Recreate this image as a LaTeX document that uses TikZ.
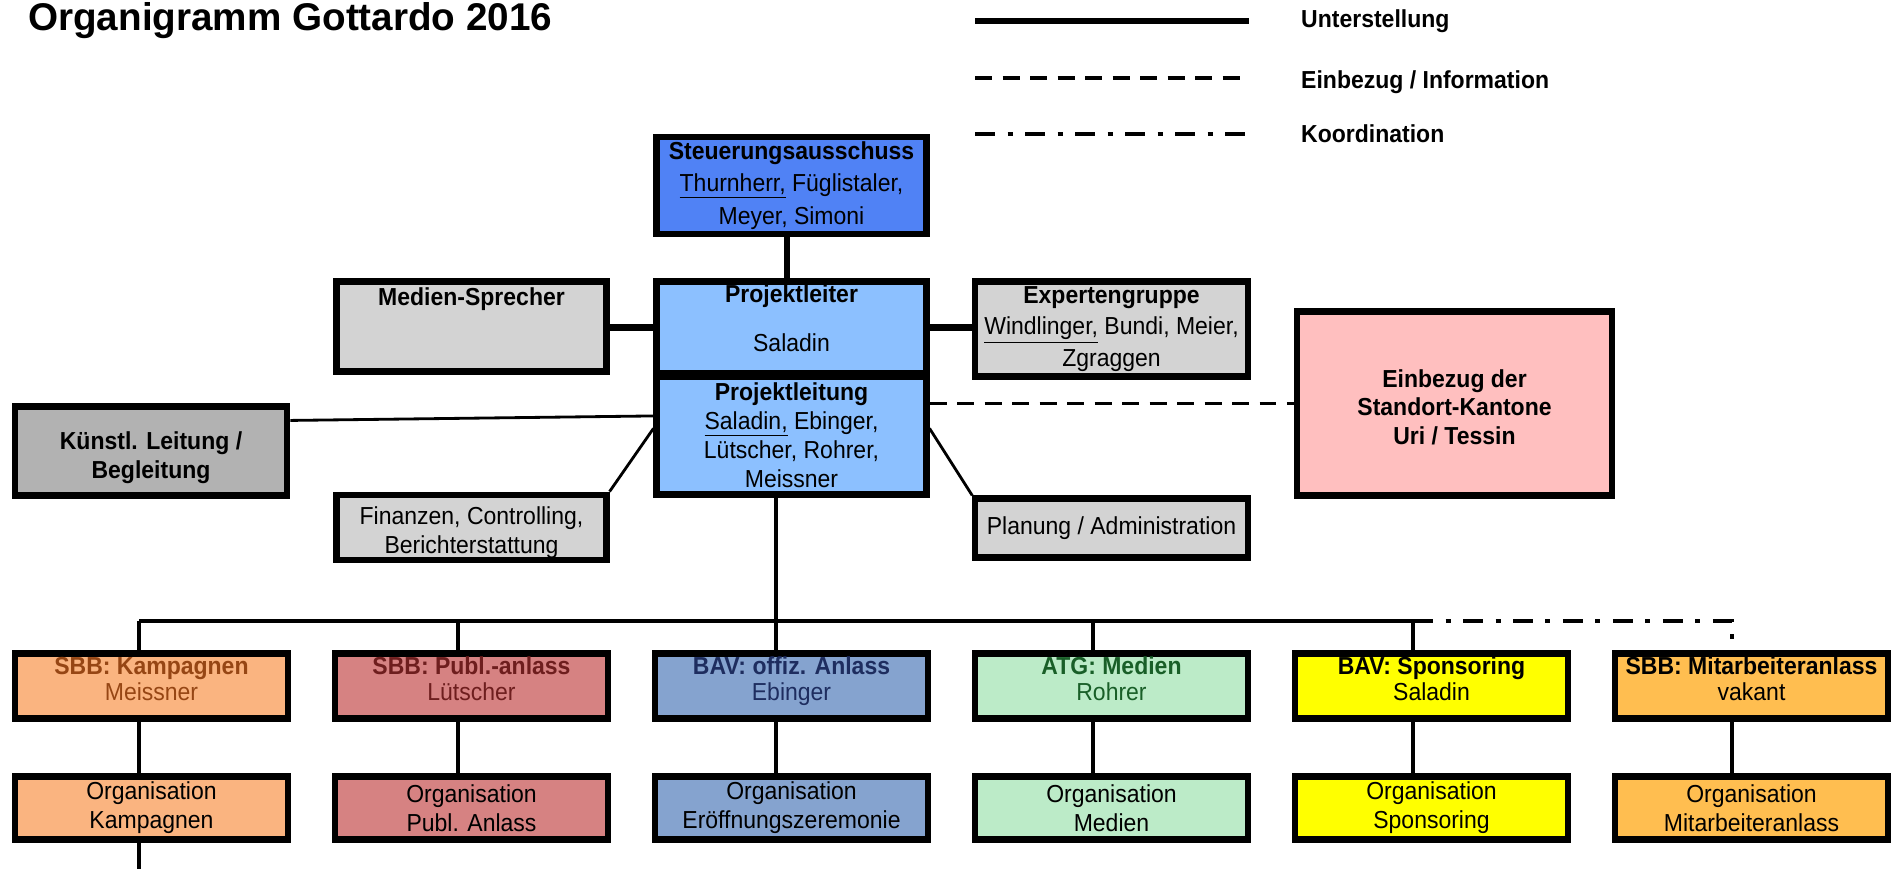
\documentclass[tikz,border=0pt]{standalone}
\usepackage{fontspec}
\setmainfont{Liberation Sans}[FakeStretch=0.935]
\newfontfamily\titlefont{Liberation Sans}

\definecolor{steuerblue}{RGB}{80,130,245}
\definecolor{plblue}{RGB}{140,192,255}
\definecolor{boxgray}{RGB}{211,211,211}
\definecolor{kuenstgray}{RGB}{178,178,178}
\definecolor{kantonpink}{RGB}{255,191,191}
\definecolor{kampfill}{RGB}{250,180,128}
\definecolor{kamptext}{RGB}{150,70,20}
\definecolor{publfill}{RGB}{214,130,130}
\definecolor{publtext}{RGB}{110,30,30}
\definecolor{bavfill}{RGB}{133,163,207}
\definecolor{bavtext}{RGB}{30,45,95}
\definecolor{atgfill}{RGB}{188,235,200}
\definecolor{atgtext}{RGB}{25,95,40}
\definecolor{sponfill}{RGB}{255,255,0}
\definecolor{mitfill}{RGB}{255,190,80}

\tikzset{
	orgbox/.style={draw, line width=3.5pt, minimum width=5.4cm, align=center, inner sep=1pt, font=\fontsize{14}{16.5}\selectfont},
	rowbox/.style={orgbox, minimum width=5.45cm, minimum height=1.3cm, font=\fontsize{14}{15}\selectfont},
	orgrow/.style={orgbox, minimum width=5.45cm, minimum height=1.26cm},
	legtext/.style={anchor=west, font=\fontsize{14}{16.5}\selectfont\bfseries},
	thickline/.style={line width=4.5pt},
	midline/.style={line width=3pt},
	thinline/.style={line width=1.6pt},
	busline/.style={line width=1.8pt},
	infoline/.style={line width=2.2pt, dash pattern=on 0.34cm off 0.21cm},
	koordline/.style={line width=2.2pt, dash pattern=on 0.4cm off 0.25cm on 0.1cm off 0.25cm}
}

\begin{document}
\begin{tikzpicture}[x=0.02cm, y=-0.02cm]
	\useasboundingbox (0,0) rectangle (1892,869);
	% title and legend
	\node[anchor=west, font=\titlefont\bfseries\fontsize{22}{26}\selectfont] (title) at (22,21) {Organigramm Gottardo 2016};
	\node[legtext] (lu) at (1295,21) {Unterstellung};
	\node[legtext] (li) at (1295,82) {Einbezug / Information};
	\node[legtext] (lk) at (1295,134) {Koordination};
	\draw[line width=3pt] ([xshift=-6.4cm]lu.west) -- ([xshift=-0.92cm]lu.west);
	\draw[infoline] ([xshift=-6.4cm, yshift=0.08cm]li.west) -- ([xshift=-0.92cm, yshift=0.08cm]li.west);
	\draw[koordline] ([xshift=-6.4cm]lk.west) -- ([xshift=-0.92cm]lk.west);

	% leadership
	\node[orgbox, fill=steuerblue, minimum height=1.94cm] (sa) at (791.5,185.5) {\textbf{Steuerungsausschuss}\\[2pt]\underline{Thurnherr,} Füglistaler,\\[2pt]Meyer, Simoni};
	\node[orgbox, fill=plblue, minimum height=1.84cm] (pl) at (791.5,327.5) {\textbf{Projektleiter}\\[0.4cm]Saladin\\[-5.5pt]\mbox{}};
	\node[orgbox, fill=plblue, minimum height=2.36cm] (plg) at (791.5,435.5) {\textbf{Projektleitung}\\\underline{Saladin,} Ebinger,\\Lütscher, Rohrer,\\Meissner};
	\node[orgbox, fill=boxgray, minimum height=1.8cm, text depth=1.2cm] (ms) at (471.5,326.5) {\textbf{Medien-Sprecher}};
	\node[orgbox, fill=boxgray, minimum width=5.45cm, minimum height=1.9cm] (ex) at (1111.5,329) {\textbf{Expertengruppe}\\[1.5pt]\underline{Windlinger,} Bundi, Meier,\\[1.5pt]Zgraggen};
	\node[orgbox, fill=kuenstgray, minimum width=5.45cm, minimum height=1.78cm] (kl) at (151,451) {\mbox{}\\[1.5pt]\textbf{Künstl. Leitung /}\\\textbf{Begleitung}};
	\node[orgbox, fill=boxgray, minimum height=1.2cm] (fin) at (471.5,527.5) {\mbox{}\\[-0.5pt]Finanzen, Controlling,\\Berichterstattung};
	\node[orgbox, fill=boxgray, minimum width=5.45cm, minimum height=1.18cm] (pa) at (1111.5,528) {Planung / Administration};
	\node[orgbox, fill=kantonpink, minimum width=6.3cm, minimum height=3.68cm] (ek) at (1454.5,403.5) {\mbox{}\\[-2pt]\textbf{Einbezug der}\\\textbf{Standort-Kantone}\\\textbf{Uri / Tessin}};

	% teams
	\node[rowbox, fill=kampfill, text=kamptext] (r1) at (151.5,686) {\textbf{SBB: Kampagnen}\\Meissner\\[-6.8pt]\mbox{}};
	\node[rowbox, fill=publfill, text=publtext] (r2) at (471.5,686) {\textbf{SBB: Publ.-anlass}\\Lütscher\\[-6.8pt]\mbox{}};
	\node[rowbox, fill=bavfill, text=bavtext] (r3) at (791.5,686) {\textbf{BAV: offiz. Anlass}\\Ebinger\\[-6.8pt]\mbox{}};
	\node[rowbox, fill=atgfill, text=atgtext] (r4) at (1111.5,686) {\textbf{ATG: Medien}\\Rohrer\\[-6.8pt]\mbox{}};
	\node[rowbox, fill=sponfill] (r5) at (1431.5,686) {\textbf{BAV: Sponsoring}\\Saladin\\[-6.8pt]\mbox{}};
	\node[rowbox, fill=mitfill] (r6) at (1751.5,686) {\textbf{SBB: Mitarbeiteranlass}\\vakant\\[-6.8pt]\mbox{}};
	\node[orgrow, fill=kampfill] (s1) at (151.5,808) {Organisation\\Kampagnen};
	\node[orgrow, fill=publfill] (s2) at (471.5,808) {Organisation\\Publ. Anlass};
	\node[orgrow, fill=bavfill] (s3) at (791.5,808) {Organisation\\Eröffnungszeremonie};
	\node[orgrow, fill=atgfill] (s4) at (1111.5,808) {Organisation\\Medien};
	\node[orgrow, fill=sponfill] (s5) at (1431.5,808) {Organisation\\Sponsoring};
	\node[orgrow, fill=mitfill] (s6) at (1751.5,808) {Organisation\\Mitarbeiteranlass};

	% bus points
	\coordinate (d1) at (139,621);
	\coordinate (d2) at (458,621);
	\coordinate (d3) at (776,621);
	\coordinate (d4) at (1093,621);
	\coordinate (d5) at (1413,621);
	\coordinate (d6) at (1732,621);
	\coordinate (d6end) at (1732,641);
	\coordinate (pagebottom) at (0,869);

	% connectors
	\draw[midline] ([xshift=-0.09cm]sa.south) -- ([xshift=-0.09cm]pl.north);
	\draw[thickline] (ms.east |- pl.west) -- (pl.west);
	\draw[thickline] (pl.east) -- (pl.east -| ex.west);
	\draw[thinline] ([yshift=-0.34cm]kl.north east) -- ([yshift=-0.85cm]plg.north west);
	\draw[thinline] (fin.north east) -- ([yshift=-1.1cm]plg.north west);
	\draw[thinline] ([yshift=-1.1cm]plg.north east) -- (pa.north west);
	\draw[infoline] (plg.east |- ek.west) -- (ek.west);
	\draw[busline] (d1) -- (d5);
	\draw[busline] (d1) -- (d1 |- r1.north);
	\draw[busline] (d2) -- (d2 |- r2.north);
	\draw[busline] (plg.south -| d3) -- (d3 |- r3.north);
	\draw[busline] (d4) -- (d4 |- r4.north);
	\draw[busline] (d5) -- (d5 |- r5.north);
	\draw[koordline] (d5) -- (d6) -- (d6end);
	\draw[busline] (r1.south -| d1) -- (s1.north -| d1);
	\draw[busline] (r2.south -| d2) -- (s2.north -| d2);
	\draw[busline] (r3.south -| d3) -- (s3.north -| d3);
	\draw[busline] (r4.south -| d4) -- (s4.north -| d4);
	\draw[busline] (r5.south -| d5) -- (s5.north -| d5);
	\draw[busline] (r6.south -| d6) -- (s6.north -| d6);
	\draw[busline] (s1.south -| d1) -- (d1 |- pagebottom);
\end{tikzpicture}
\end{document}
